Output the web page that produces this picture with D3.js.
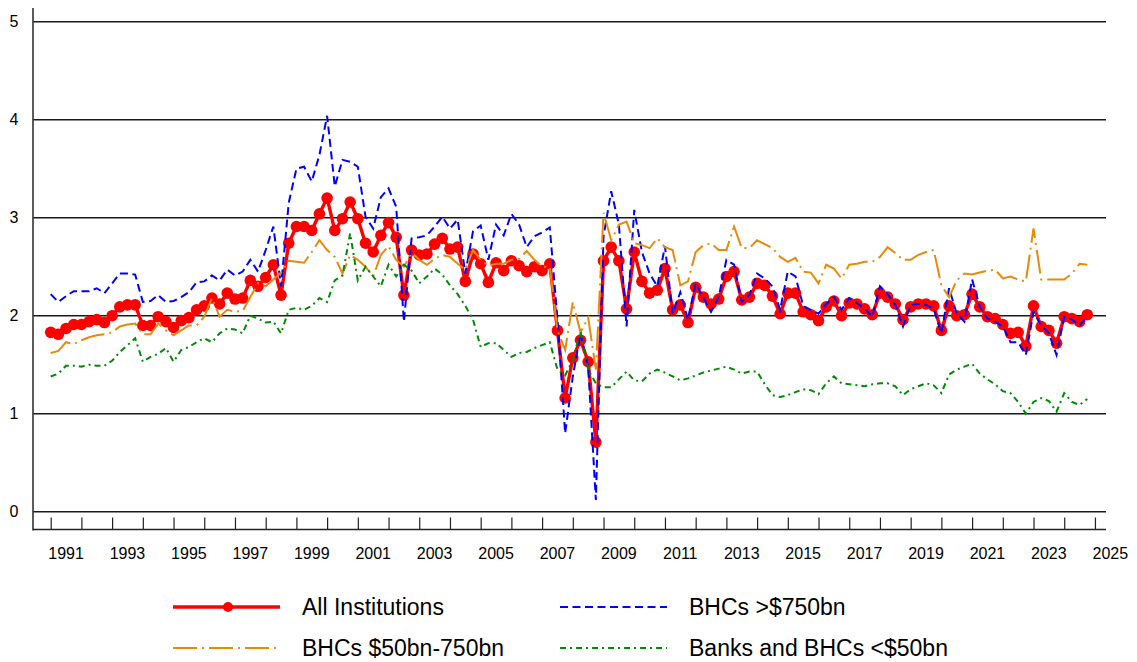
<!DOCTYPE html>
<html>
<head>
<meta charset="utf-8">
<script src="https://cdn.jsdelivr.net/npm/d3@7"></script>
<style>
  html, body { margin: 0; padding: 0; background: #ffffff; }
  svg { display: block; }
  text { font-family: "Liberation Sans", Arial, sans-serif; fill: #000; }
</style>
</head>
<body>
<svg id="chart" width="1137" height="662"></svg>
<script>
// ---------- DATA (quarterly, 1991Q1 .. 2024Q4) ----------
const startYear = 1991;
const nQuarters = 136;
const quarters = d3.range(nQuarters).map(i => startYear + i / 4);

const allInstitutions = [
  1.83,1.81,1.87,1.91,1.91,1.94,1.96,1.93,2.00,2.09,
  2.11,2.11,1.90,1.90,1.99,1.94,1.88,1.95,1.98,2.06,
  2.10,2.18,2.12,2.23,2.17,2.18,2.36,2.30,2.39,2.52,
  2.21,2.74,2.91,2.91,2.87,3.04,3.20,2.87,2.99,3.16,
  2.99,2.74,2.65,2.82,2.95,2.80,2.21,2.67,2.62,2.63,
  2.73,2.79,2.68,2.70,2.35,2.63,2.53,2.34,2.54,2.46,
  2.56,2.51,2.45,2.50,2.46,2.53,1.85,1.16,1.57,1.75,
  1.53,0.71,2.56,2.70,2.56,2.07,2.65,2.35,2.23,2.26,
  2.48,2.06,2.11,1.93,2.29,2.19,2.12,2.17,2.40,2.45,
  2.16,2.19,2.33,2.31,2.20,2.02,2.23,2.23,2.04,2.01,
  1.95,2.09,2.15,2.00,2.13,2.12,2.07,2.01,2.23,2.19,
  2.12,1.96,2.09,2.12,2.12,2.10,1.85,2.10,2.00,2.01,
  2.22,2.09,1.99,1.97,1.91,1.82,1.83,1.69,2.10,1.89,
  1.85,1.72,1.99,1.97,1.94,2.01
];

const bhcsOver750 = [
  2.22,2.14,2.20,2.25,2.25,2.25,2.28,2.23,2.33,2.43,
  2.43,2.42,2.14,2.15,2.21,2.14,2.15,2.19,2.24,2.34,
  2.35,2.41,2.36,2.47,2.41,2.45,2.57,2.45,2.67,2.91,
  2.30,3.15,3.50,3.52,3.37,3.64,4.04,3.32,3.59,3.57,
  3.52,3.01,2.89,3.21,3.30,3.11,1.94,2.79,2.80,2.82,
  2.91,3.01,2.89,2.98,2.43,2.86,2.92,2.57,2.93,2.82,
  3.04,2.93,2.70,2.81,2.85,2.90,1.97,0.80,1.38,1.82,
  1.48,0.12,2.81,3.27,2.93,1.89,3.08,2.65,2.43,2.30,
  2.71,2.02,2.24,1.96,2.33,2.18,2.04,2.19,2.57,2.52,
  2.14,2.21,2.43,2.38,2.30,2.06,2.45,2.40,2.10,2.06,
  2.02,2.12,2.19,2.06,2.18,2.13,2.07,1.99,2.30,2.22,
  2.11,1.89,2.11,2.12,2.11,2.07,1.82,2.28,2.02,1.94,
  2.37,2.09,1.97,1.94,1.89,1.73,1.73,1.60,2.04,1.90,
  1.82,1.60,1.99,1.96,1.90,1.99
];

const bhcs50to750 = [
  1.62,1.64,1.73,1.71,1.75,1.78,1.80,1.81,1.83,1.89,
  1.91,1.92,1.81,1.81,1.92,1.85,1.80,1.85,1.90,1.90,
  1.99,2.18,1.99,2.06,2.04,2.05,2.19,2.33,2.30,2.37,
  2.44,2.56,2.55,2.54,2.65,2.77,2.67,2.60,2.43,2.62,
  2.57,2.50,2.40,2.62,2.71,2.57,2.50,2.64,2.57,2.52,
  2.58,2.62,2.60,2.53,2.47,2.67,2.57,2.51,2.53,2.53,
  2.57,2.58,2.66,2.57,2.50,2.50,1.85,1.65,2.14,1.83,
  1.98,1.45,3.05,2.77,2.93,2.96,2.74,2.72,2.69,2.79,
  2.70,2.67,2.31,2.35,2.65,2.72,2.74,2.67,2.67,2.91,
  2.69,2.69,2.77,2.73,2.69,2.60,2.55,2.59,2.45,2.44,
  2.33,2.52,2.48,2.38,2.52,2.53,2.55,2.55,2.60,2.70,
  2.64,2.57,2.57,2.62,2.65,2.67,2.31,2.19,2.36,2.43,
  2.42,2.44,2.46,2.47,2.38,2.40,2.37,2.35,2.89,2.37,
  2.37,2.37,2.37,2.43,2.53,2.52
];

const banksUnder50 = [
  1.38,1.41,1.49,1.49,1.48,1.50,1.49,1.49,1.54,1.63,
  1.70,1.77,1.53,1.58,1.61,1.67,1.53,1.65,1.68,1.73,
  1.77,1.73,1.82,1.87,1.86,1.82,2.00,1.97,1.93,1.94,
  1.82,2.06,2.08,2.06,2.10,2.18,2.14,2.36,2.41,2.84,
  2.36,2.50,2.40,2.30,2.52,2.40,2.52,2.46,2.33,2.40,
  2.48,2.42,2.31,2.22,2.10,1.96,1.68,1.72,1.72,1.65,
  1.58,1.62,1.63,1.67,1.70,1.73,1.45,1.39,1.55,1.84,
  1.45,1.31,1.27,1.27,1.35,1.43,1.34,1.33,1.41,1.45,
  1.42,1.38,1.34,1.36,1.39,1.42,1.44,1.46,1.48,1.45,
  1.41,1.43,1.43,1.30,1.19,1.17,1.19,1.22,1.25,1.24,
  1.20,1.31,1.38,1.31,1.30,1.29,1.28,1.30,1.31,1.31,
  1.28,1.19,1.25,1.28,1.31,1.29,1.21,1.40,1.45,1.48,
  1.51,1.41,1.35,1.30,1.23,1.21,1.12,1.00,1.12,1.16,
  1.13,1.02,1.21,1.12,1.09,1.15
];

const yTicks = [0, 1, 2, 3, 4, 5];
const yearTicks = d3.range(1991, 2026);            // tick marks at each year
const yearLabels = d3.range(1991, 2026, 2);        // labels at odd years

const seriesNames = ["All Institutions", "BHCs >$750bn", "BHCs $50bn-750bn", "Banks and BHCs <$50bn"];

// ---------- LAYOUT ----------
const svg = d3.select("#chart");
const W = 1137, H = 662;
svg.append("rect").attr("width", W).attr("height", H).attr("fill", "#fff");

const x = d3.scaleLinear().domain([1990.424, 2025.36]).range([33, 1106]);
const y = d3.scaleLinear().domain([0, 5]).range([511.7, 21.7]);

// gridlines
svg.append("g").selectAll("line").data(yTicks).join("line")
  .attr("x1", 33).attr("x2", 1106)
  .attr("y1", d => y(d)).attr("y2", d => y(d))
  .attr("stroke", "#1a1a1a").attr("stroke-width", 1.4);

// y labels
svg.append("g").selectAll("text").data(yTicks).join("text")
  .attr("x", 14).attr("y", d => y(d))
  .attr("text-anchor", "middle").attr("dominant-baseline", "central")
  .attr("font-size", 16).text(d => d);

// y axis line
svg.append("line").attr("x1", 33).attr("x2", 33).attr("y1", 8).attr("y2", 530.5)
  .attr("stroke", "#333").attr("stroke-width", 1.6);

// x axis (separate baseline with ticks pointing upward)
const xAxisG = svg.append("g").attr("transform", "translate(0,529.5)");
const xAxis = d3.axisTop(x).tickValues(yearTicks).tickSize(12).tickFormat("");
xAxisG.call(xAxis);
xAxisG.select(".domain").attr("d", `M33,0H1106`).attr("stroke", "#222").attr("stroke-width", 1.6);
xAxisG.selectAll(".tick line").attr("stroke", "#222").attr("stroke-width", 1.2);

svg.append("g").selectAll("text").data(yearLabels).join("text")
  .attr("x", d => x(d + 0.5)).attr("y", 553)
  .attr("text-anchor", "middle").attr("dominant-baseline", "central")
  .attr("font-size", 16).text(d => d);

// ---------- SERIES ----------
const styles = [
  { data: allInstitutions, color: "#ff0000", width: 3.4, dash: null },
  { data: bhcsOver750, color: "#0000ff", width: 2, dash: "8,4.5" },
  { data: bhcs50to750, color: "#e8890c", width: 2, dash: "24,5,2,5" },
  { data: banksUnder50, color: "#008a00", width: 2, dash: "6,4,2,4" }
];

const line = d3.line().x((d, i) => x(quarters[i])).y(d => y(d));
const plot = svg.append("g");

// red first with dots, others drawn on top
plot.append("path").datum(allInstitutions)
  .attr("d", line).attr("fill", "none")
  .attr("stroke", styles[0].color).attr("stroke-width", styles[0].width)
  .attr("stroke-linejoin", "round");
plot.append("g").selectAll("circle").data(allInstitutions).join("circle")
  .attr("cx", (d, i) => x(quarters[i])).attr("cy", d => y(d))
  .attr("r", 5.8).attr("fill", "#ff0000");

[1, 2, 3].forEach(k => {
  const s = styles[k];
  plot.append("path").datum(s.data)
    .attr("d", line).attr("fill", "none")
    .attr("stroke", s.color).attr("stroke-width", s.width)
    .attr("stroke-dasharray", s.dash);
});

// ---------- LEGEND ----------
const legendItems = [
  { name: seriesNames[0], s: styles[0], lx: 173, ly: 607, dot: true },
  { name: seriesNames[1], s: styles[1], lx: 560, ly: 607 },
  { name: seriesNames[2], s: styles[2], lx: 173, ly: 648 },
  { name: seriesNames[3], s: styles[3], lx: 560, ly: 648 }
];
const lg = svg.append("g");
legendItems.forEach(it => {
  lg.append("line")
    .attr("x1", it.lx).attr("x2", it.lx + 107)
    .attr("y1", it.ly).attr("y2", it.ly)
    .attr("stroke", it.s.color).attr("stroke-width", it.s.width)
    .attr("stroke-dasharray", it.s.dash);
  if (it.dot) {
    lg.append("circle").attr("cx", it.lx + 55).attr("cy", it.ly).attr("r", 5).attr("fill", it.s.color);
  }
  lg.append("text").attr("x", it.lx + 129).attr("y", it.ly)
    .attr("dominant-baseline", "central").attr("font-size", 23).text(it.name);
});
</script>
</body>
</html>
